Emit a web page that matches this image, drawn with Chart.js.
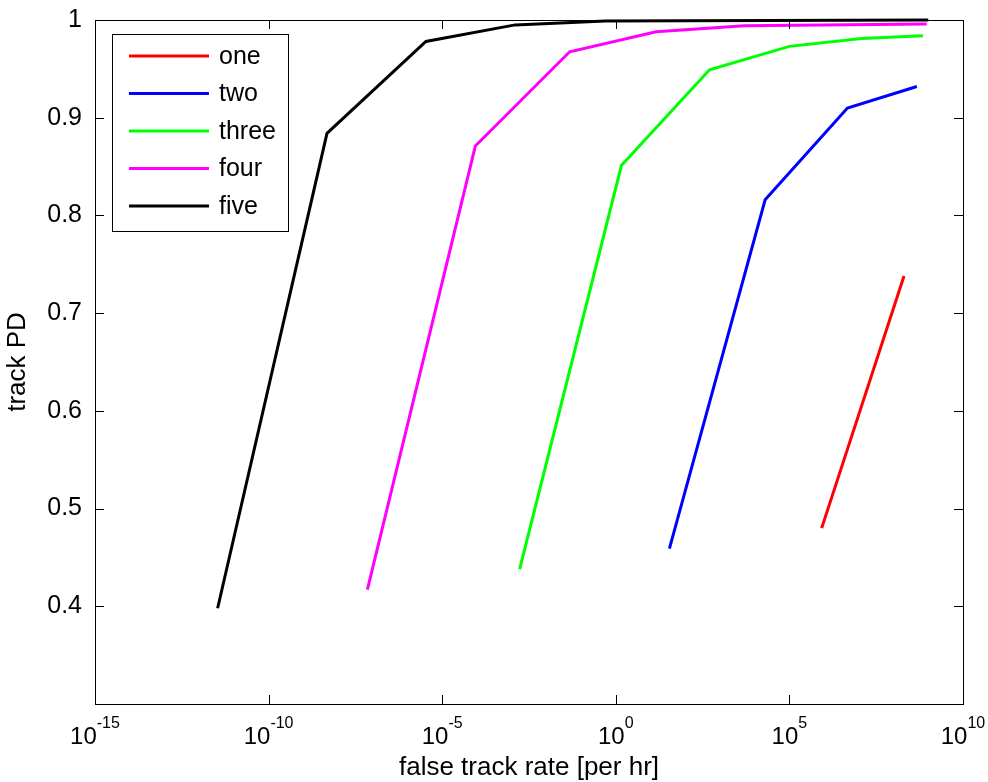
<!DOCTYPE html>
<html>
<head>
<meta charset="utf-8">
<script src="https://cdn.jsdelivr.net/npm/chart.js@4.4.1/dist/chart.umd.min.js"></script>
<style>
  html, body { margin: 0; padding: 0; background: #fff; }
  #wrap { width: 988px; height: 782px; position: relative; }
</style>
</head>
<body>
<div id="wrap"><canvas id="chart"></canvas></div>
<script>
// datos (x = false track rate, y = track PD)
const seriesNames = ['one', 'two', 'three', 'four', 'five'];
const seriesColors = ['#ff0000', '#0000ff', '#00ff00', '#ff00ff', '#000000'];

const oneX = [8.5e5, 2.0e8];
const oneY = [0.480, 0.738];

const twoX = [35, 2.0e4, 4.7e6, 4.7e8];
const twoY = [0.459, 0.816, 0.910, 0.932];

const threeX = [1.7e-3, 1.45, 500, 1.0e5, 1.2e7, 7.0e8];
const threeY = [0.438, 0.851, 0.949, 0.973, 0.981, 0.984];

const fourX = [7.0e-8, 9.0e-5, 0.047, 14.5, 5.0e3, 9.0e8];
const fourY = [0.417, 0.871, 0.9675, 0.988, 0.994, 0.996];

const fiveX = [3.4e-12, 4.8e-9, 3.4e-6, 1.26e-3, 0.5, 1.0e9];
const fiveY = [0.398, 0.884, 0.978, 0.995, 0.999, 1.0];

const xTickValues = [1e-15, 1e-10, 1e-5, 1e0, 1e5, 1e10];
const xTickExps = ['-15', '-10', '-5', '0', '5', '10'];
const yTickValues = [0.4, 0.5, 0.6, 0.7, 0.8, 0.9, 1.0];

const xs = [oneX, twoX, threeX, fourX, fiveX];
const ys = [oneY, twoY, threeY, fourY, fiveY];

const FONT = "'Liberation Sans', Arial, Helvetica, sans-serif";
Chart.defaults.font.family = FONT;
Chart.defaults.color = '#000';

const datasets = seriesNames.map((name, i) => ({
    label: name,
    data: xs[i].map((x, j) => ({ x: x, y: ys[i][j] })),
    borderColor: seriesColors[i],
    backgroundColor: seriesColors[i],
    borderWidth: 3,
    pointRadius: 0,
    tension: 0,
    clip: false
}));

// Marco, ticks hacia dentro, etiquetas 10^n y leyenda estilo MATLAB
const matlabAxes = {
    id: 'matlabAxes',
    afterDatasetsDraw(chart) {
        const ctx = chart.ctx;
        const a = chart.chartArea;
        const xs = chart.scales.x;
        const ys = chart.scales.y;
        const tl = 9;
        ctx.save();
        ctx.strokeStyle = '#000';
        ctx.lineWidth = 1;
        ctx.beginPath();
        xTickValues.forEach(v => {
            const px = Math.round(xs.getPixelForValue(v)) + 0.5;
            ctx.moveTo(px, a.bottom); ctx.lineTo(px, a.bottom - tl);
            ctx.moveTo(px, a.top); ctx.lineTo(px, a.top + tl);
        });
        yTickValues.forEach(v => {
            const py = Math.round(ys.getPixelForValue(v)) + 0.5;
            ctx.moveTo(a.left, py); ctx.lineTo(a.left + tl, py);
            ctx.moveTo(a.right, py); ctx.lineTo(a.right - tl, py);
        });
        ctx.stroke();
        ctx.strokeRect(Math.round(a.left) + 0.5, Math.round(a.top) + 0.5,
            Math.round(a.right - a.left), Math.round(a.bottom - a.top));

        // etiquetas del eje x con exponente
        ctx.fillStyle = '#000';
        ctx.textBaseline = 'alphabetic';
        ctx.textAlign = 'left';
        xTickValues.forEach((v, i) => {
            const px = xs.getPixelForValue(v);
            ctx.font = '24px ' + FONT;
            const wb = ctx.measureText('10').width;
            ctx.font = '16px ' + FONT;
            const we = ctx.measureText(xTickExps[i]).width;
            const start = px - (wb + we) / 2;
            ctx.font = '24px ' + FONT;
            ctx.fillText('10', start, 744);
            ctx.font = '16px ' + FONT;
            ctx.fillText(xTickExps[i], start + wb, 728);
        });

        // leyenda
        const lx = 112, ly = 34, lw = 176, lh = 197;
        ctx.fillStyle = '#fff';
        ctx.fillRect(lx, ly, lw, lh);
        ctx.strokeRect(lx + 0.5, ly + 0.5, lw, lh);
        ctx.font = '25px ' + FONT;
        ctx.textBaseline = 'middle';
        chart.data.datasets.forEach((ds, i) => {
            const ry = 56 + i * 37.5;
            ctx.strokeStyle = ds.borderColor;
            ctx.lineWidth = 3;
            ctx.beginPath();
            ctx.moveTo(129, ry); ctx.lineTo(209, ry);
            ctx.stroke();
            ctx.fillStyle = '#000';
            ctx.fillText(ds.label, 219, ry + 1);
        });
        ctx.restore();
    }
};

new Chart(document.getElementById('chart'), {
    type: 'line',
    data: { datasets: datasets },
    options: {
        responsive: true,
        maintainAspectRatio: false,
        animation: false,
        layout: { padding: { top: 20, right: 25, left: 0, bottom: 0 } },
        plugins: {
            legend: { display: false },
            tooltip: { enabled: false }
        },
        scales: {
            x: {
                type: 'logarithmic',
                min: 1e-15,
                max: 1e10,
                grid: { display: false },
                border: { display: false },
                ticks: { display: false },
                afterBuildTicks: (scale) => {
                    scale.ticks = xTickValues.map(v => ({ value: v }));
                },
                afterFit: (scale) => { scale.height = 78; },
                title: {
                    display: true,
                    text: 'false track rate [per hr]',
                    font: { size: 26 },
                    padding: { top: 0, bottom: -1 }
                }
            },
            y: {
                type: 'linear',
                min: 0.3,
                max: 1,
                grid: { display: false },
                border: { display: false },
                afterBuildTicks: (scale) => {
                    scale.ticks = yTickValues.map(v => ({ value: v }));
                },
                ticks: {
                    font: { size: 25 },
                    padding: 5,
                    callback: (v) => (v === 1 ? '1' : Number(v).toFixed(1))
                },
                afterFit: (scale) => { scale.width = 95; },
                title: {
                    display: true,
                    text: 'track PD',
                    font: { size: 26 },
                    padding: { top: 2, bottom: 0 }
                }
            }
        }
    },
    plugins: [matlabAxes]
});
</script>
</body>
</html>
